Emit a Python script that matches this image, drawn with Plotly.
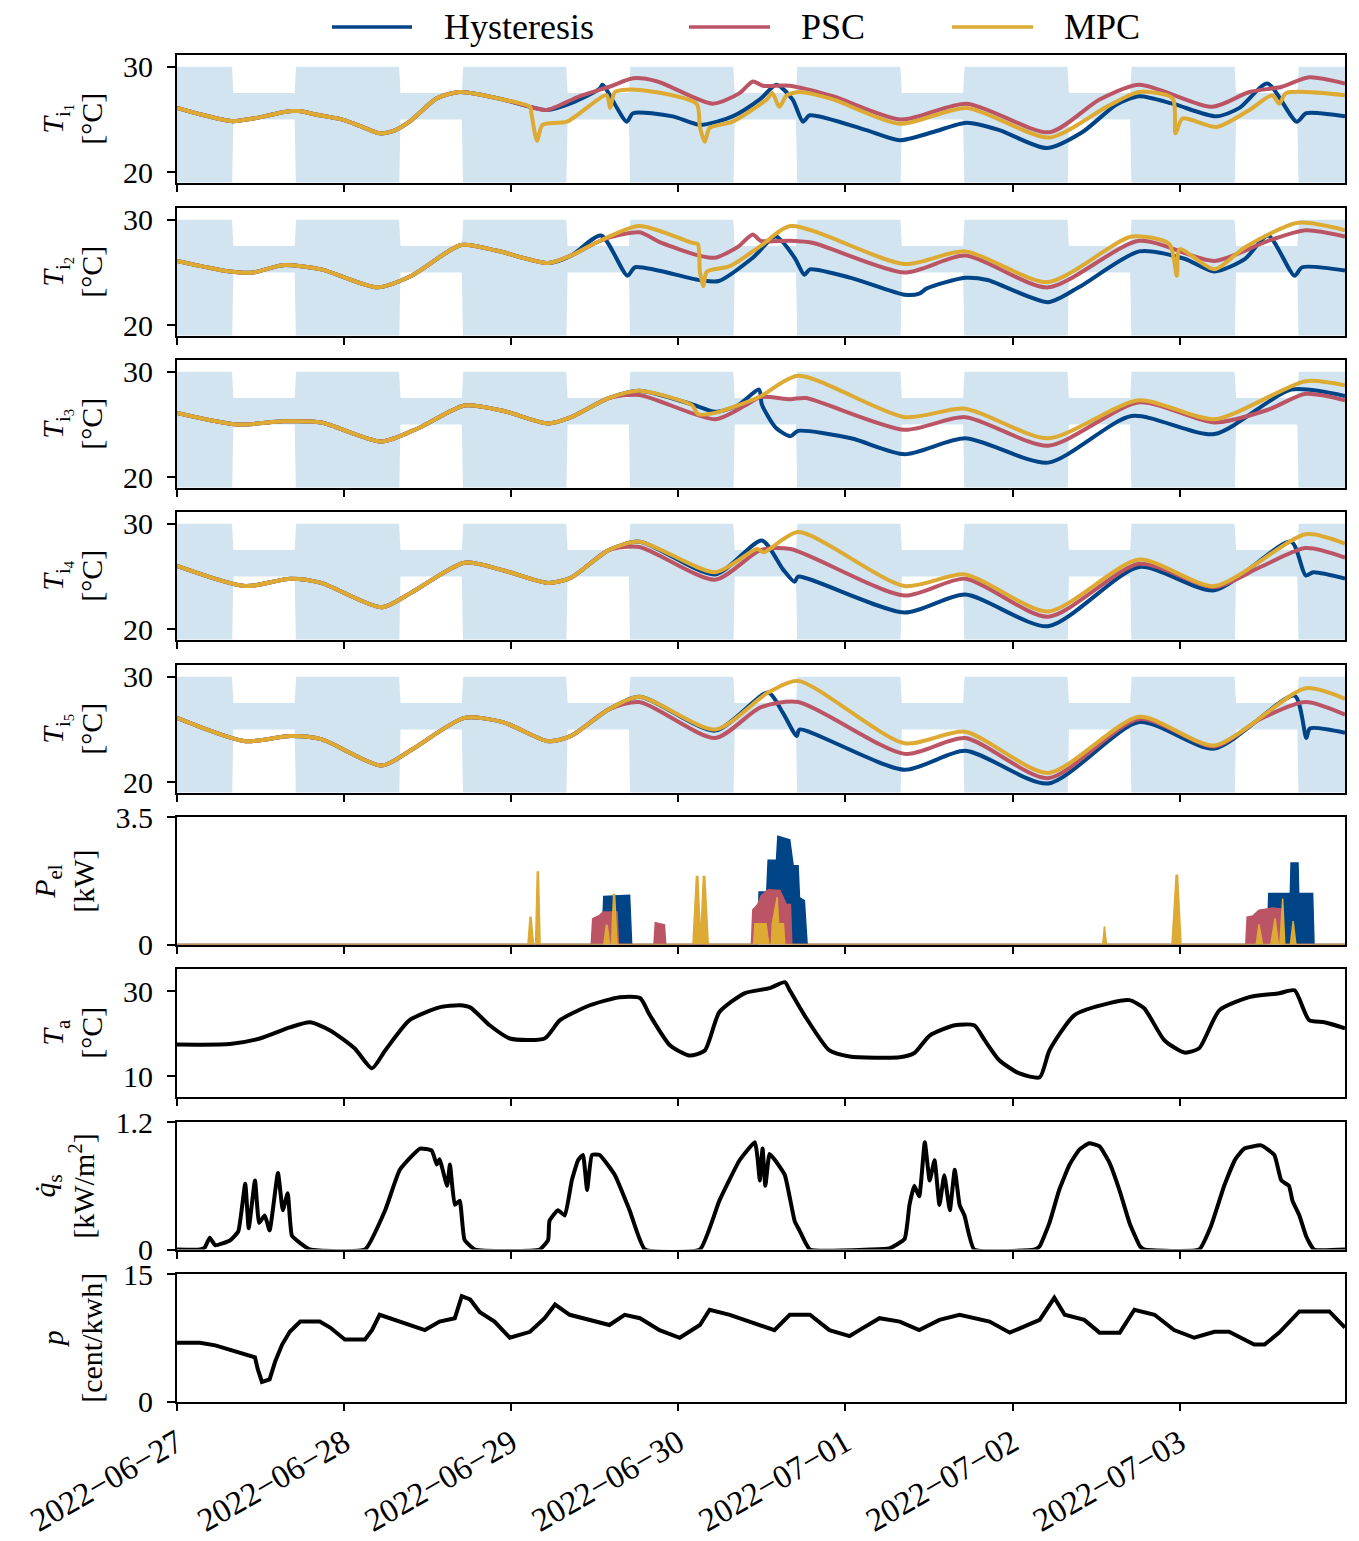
import pandas as pd
import plotly.graph_objects as go
from plotly.subplots import make_subplots

START = pd.Timestamp("2022-06-27 00:00")
END_H = 167.75

def tt(hours):
    return START + pd.to_timedelta(hours, unit="h")

# ---------------- comfort band (daily schedule, hours of day) ----------------
comfort_hod = [0, 7.9, 8.1, 16.9, 17.1, 24]
comfort_low = [18, 18, 25, 25, 18, 18]
comfort_high = [30, 30, 27.5, 27.5, 30, 30]
n_days = 7

# ---------------- room temperatures (hours, degC) ----------------
T1_common_h = [0, 3.3, 6.5, 8, 9.5, 11, 12.5, 14.5, 16.5, 17.5, 20.5, 24, 27, 29.1, 31, 33.4, 37.3, 40.6, 46.8, 50.7]
T1_common = [26.1, 25.5, 25.0, 24.85, 24.95, 25.1, 25.3, 25.6, 25.8, 25.8, 25.4, 24.95, 24.2, 23.7, 23.9, 24.8, 27.0, 27.6, 26.9, 26.2]
T1_hyst_h = T1_common_h + [53.1, 56.8, 60.7, 61.1, 64.6, 65.5, 71.2, 75.1, 79.8, 83.7, 86.1, 88.4, 89.9, 90.9, 99, 103.8, 108.5, 113.4, 118.1, 124.9, 130, 134.9, 138.2, 143, 149.3, 152.6, 156.6, 160.8, 162.2, 167.75]
T1_hyst = T1_common + [25.9, 26.6, 27.9, 28.3, 24.8, 25.6, 25.3, 24.5, 25.3, 26.9, 28.3, 26.9, 24.8, 25.4, 24.0, 23.05, 23.8, 24.7, 24.0, 22.3, 23.8, 26.4, 27.2, 26.5, 25.3, 26.1, 28.4, 24.8, 25.6, 25.3]
T1_psc_h = T1_common_h + [53.1, 57.8, 62.1, 65.5, 69, 76.9, 80.8, 82.7, 84.1, 88, 94.2, 104, 113.4, 125.3, 132.5, 138.2, 148.7, 154, 158.7, 162.6, 167.75]
T1_psc = T1_common + [25.9, 27.2, 28.1, 28.9, 28.6, 26.5, 27.5, 28.6, 28.2, 28.2, 27.2, 25.0, 26.5, 23.8, 26.9, 28.3, 26.2, 27.6, 28.1, 29.0, 28.4]
T1_mpc_h = T1_common_h + [50.9, 51.7, 52.5, 56, 61.7, 62.2, 62.9, 66.5, 74.6, 75.1, 75.8, 76.5, 79.8, 84.7, 85.5, 86.5, 87.6, 89.4, 94.2, 103.8, 113.4, 125.3, 133.5, 138.2, 143, 143.4, 144.4, 149.3, 154, 157.3, 158.3, 159.3, 167.75]
T1_mpc = T1_common + [25.6, 23.0, 24.5, 24.8, 27.3, 26.1, 27.6, 27.8, 26.5, 24.3, 22.9, 24.2, 24.8, 26.9, 27.5, 26.2, 27.3, 27.6, 26.9, 24.6, 26.1, 23.3, 26.2, 27.6, 27.0, 23.7, 25.1, 24.3, 25.9, 27.3, 26.5, 27.5, 27.3]

T2_common_h = [0, 7.6, 10.9, 15.2, 20.7, 28.8, 33.7, 40.8, 45.7, 53.3, 56.6]
T2_common = [26.1, 25.1, 25.0, 25.7, 25.3, 23.6, 24.7, 27.6, 27.1, 25.9, 26.6]
T2_hyst_h = T2_common_h + [60.9, 64.7, 65.8, 75, 77.8, 82.7, 86, 88.7, 90.1, 90.9, 96.8, 104.5, 106.6, 107.7, 113.2, 116.4, 125.1, 129.5, 138.2, 144.7, 149, 153.4, 156.7, 160.5, 161.6, 167.75]
T2_hyst = T2_common + [28.5, 24.7, 25.5, 24.3, 24.2, 26.4, 28.4, 26.4, 24.8, 25.3, 24.5, 22.9, 23.0, 23.5, 24.5, 24.3, 22.2, 23.6, 27.0, 26.3, 25.1, 26.3, 28.5, 24.7, 25.5, 25.2]
T2_psc_h = T2_common_h + [59.8, 62, 66.4, 69.6, 75, 77.3, 80.5, 82.7, 83.8, 88.1, 91.4, 104.5, 113.2, 125.1, 138.2, 149, 156.7, 162.1, 167.75]
T2_psc = T2_common + [27.7, 28.3, 28.8, 27.8, 26.6, 26.4, 27.4, 28.6, 28.0, 28.0, 27.8, 25.0, 26.6, 23.6, 28.0, 26.1, 28.0, 29.0, 28.4]
T2_mpc_h = T2_common_h + [59.8, 66.4, 74, 74.8, 75.1, 75.6, 76.1, 79.4, 83.8, 88.1, 104.5, 113.2, 125.1, 137.1, 142.5, 143.6, 144.0, 149, 153.4, 161, 167.75]
T2_mpc = T2_common + [27.7, 29.4, 27.8, 27.7, 25.1, 23.7, 25.1, 25.6, 27.5, 29.4, 25.8, 27.0, 24.1, 28.4, 27.7, 24.7, 27.2, 25.3, 27.4, 29.7, 29.0]

T3_common_h = [0, 8.7, 15.2, 20.7, 29.4, 34.8, 41.3, 46.8, 53.3, 56.6, 62]
T3_common = [26.1, 25.0, 25.3, 25.2, 23.4, 24.7, 26.8, 26.3, 25.1, 25.7, 27.5]
T3_hyst_h = T3_common_h + [66.4, 74, 77.3, 80.5, 83.6, 84.0, 86, 88.1, 89.2, 96.8, 104.5, 113.2, 125.1, 137.1, 149, 160, 167.75]
T3_hyst = T3_common + [28.2, 26.9, 26.2, 26.8, 28.3, 26.9, 24.7, 23.9, 24.4, 23.7, 22.2, 23.7, 21.4, 25.8, 24.1, 28.3, 27.7]
T3_psc_h = T3_common_h + [66.4, 77.3, 81.6, 83.8, 88.1, 90.3, 104.5, 113.2, 125.1, 138.2, 149, 156.7, 162.1, 167.75]
T3_psc = T3_common + [27.8, 25.5, 26.8, 27.6, 27.4, 27.5, 24.5, 25.7, 23.0, 27.1, 25.2, 26.4, 27.9, 27.3]
T3_mpc_h = T3_common_h + [66.4, 74, 74.8, 77.3, 83.6, 89.2, 104.5, 113.2, 125.1, 138.2, 149, 162.1, 167.75]
T3_mpc = T3_common + [28.2, 26.8, 26.0, 26.1, 27.6, 29.6, 25.7, 26.5, 23.7, 27.3, 25.5, 29.1, 28.7]

T4_common_h = [0, 9.8, 16.3, 20.7, 29.4, 33.7, 41.3, 46.8, 53.3, 56.6, 62]
T4_common = [26.0, 24.1, 24.8, 24.4, 22.1, 23.5, 26.3, 25.6, 24.4, 24.9, 27.5]
T4_hyst_h = T4_common_h + [66.4, 77.3, 84, 87, 88.7, 89.2, 104.5, 113.2, 125.1, 138.2, 149, 160, 162.1, 163.2, 167.75]
T4_hyst = T4_common + [28.3, 25.2, 28.4, 25.7, 24.5, 25.0, 21.6, 23.3, 20.3, 25.9, 23.7, 28.3, 25.1, 25.4, 24.8]
T4_psc_h = T4_common_h + [66.4, 77.3, 83.8, 88.1, 104.5, 113.2, 125.1, 138.2, 149, 155.6, 162.1, 167.75]
T4_psc = T4_common + [27.8, 24.7, 27.5, 27.6, 23.2, 24.8, 21.2, 26.2, 24.0, 25.9, 27.7, 26.8]
T4_mpc_h = T4_common_h + [66.4, 77.3, 83.3, 84.3, 89.2, 104.5, 113.2, 125.1, 138.2, 149, 162.1, 167.75]
T4_mpc = T4_common + [28.3, 25.4, 27.6, 27.3, 29.2, 24.1, 25.2, 21.7, 26.6, 24.1, 29.0, 28.1]

T5_common_h = [0, 9.8, 16.3, 20.7, 29.4, 33.7, 41.3, 46.8, 53.3, 56.6, 62]
T5_common = [26.1, 23.9, 24.4, 24.1, 21.6, 23.1, 26.1, 25.7, 23.9, 24.4, 26.9]
T5_hyst_h = T5_common_h + [66.4, 77.3, 84.9, 87, 89, 89.4, 104.5, 113.2, 125.1, 138.2, 149, 160.5, 162.2, 162.7, 167.75]
T5_hyst = T5_common + [28.1, 24.9, 28.5, 26.6, 24.4, 25.0, 21.2, 23.0, 19.9, 25.7, 23.2, 28.2, 24.2, 25.1, 24.7]
T5_psc_h = T5_common_h + [66.4, 77.3, 83.8, 89.2, 104.5, 113.2, 125.1, 138.2, 149, 155.6, 162.1, 167.75]
T5_psc = T5_common + [27.6, 24.2, 27.1, 27.6, 22.7, 24.2, 20.4, 26.0, 23.4, 26.0, 27.6, 26.4]
T5_mpc_h = T5_common_h + [66.4, 77.3, 84.9, 89.2, 104.5, 113.2, 125.1, 138.2, 149, 162.1, 167.75]
T5_mpc = T5_common + [28.1, 25.0, 28.5, 29.6, 23.7, 24.8, 20.9, 26.2, 23.5, 28.9, 27.9]

# ---------------- electric power (hours, kW) ----------------
P_hyst_h = [0, 61.0, 61.3, 65.0, 65.3, 83.4, 83.6, 84.7, 84.9, 86.1, 86.3, 88.0, 88.5, 89.2, 89.4, 90.1, 90.5,
            156.6, 156.8, 159.9, 160.0, 161.0, 161.1, 163.1, 163.3, 167.75]
P_hyst = [0, 0, 1.32, 1.35, 0, 0, 1.44, 1.44, 2.31, 2.31, 2.97, 2.87, 2.16, 2.16, 1.29, 1.2, 0,
          0, 1.40, 1.40, 2.24, 2.24, 1.40, 1.40, 0, 0]
P_psc_h = [0, 59.5, 59.7, 60.7, 61.2, 62.1, 63.2, 63.4, 68.5, 68.7, 70.0, 70.2, 82.5, 82.7, 83.4, 83.9, 84.9, 86.6, 87.5, 88.1, 88.3,
           153.5, 153.7, 154.5, 155.4, 157.4, 158.3, 158.7, 158.9, 167.75]
P_psc = [0, 0, 0.71, 0.8, 0.89, 0.89, 0.89, 0, 0, 0.60, 0.54, 0, 0, 0.95, 1.1, 1.34, 1.5, 1.48, 1.1, 1.1, 0,
         0, 0.75, 0.78, 0.94, 1.0, 0.97, 0.97, 0, 0]
P_mpc_h = [0, 50.4, 50.7, 50.85, 51.2, 51.5, 51.75, 51.9, 52.15, 61.3, 61.65, 61.8, 62.15, 62.4, 62.7, 62.85, 63.2,
           74.1, 74.6, 74.8, 75.2, 75.6, 75.8, 76.3, 82.8, 83.0, 84.6, 85.0, 85.35, 85.5, 86.2, 86.4, 87.1, 87.3,
           132.95, 133.2, 133.5, 142.9, 143.5, 143.7, 144.2, 155.0, 155.4, 155.9, 157.1, 157.7, 158.2,
           158.4, 158.8, 159.1, 159.9, 160.3, 160.7, 167.75]
P_mpc = [0, 0, 0.75, 0.75, 0, 0, 1.99, 1.99, 0, 0, 0.52, 0.52, 0, 0, 1.37, 1.37, 0,
         0, 1.87, 1.87, 0.1, 1.87, 1.87, 0, 0, 0.57, 0.57, 0, 0, 0.57, 1.30, 0.57, 0.57, 0,
         0, 0.5, 0, 0, 1.9, 1.9, 0, 0, 0.55, 0, 0, 0.72, 0,
         0, 1.26, 0, 0, 0.64, 0, 0]

# ---------------- ambient temperature (hours, degC) ----------------
Ta_h = [0, 7.6, 11.9, 16.2, 19.1, 22.0, 25.5, 28.0, 29.9, 33.4, 37.7, 40.6, 42.1, 44.9, 47.8, 52.8, 55.0, 59.3, 63.6, 66.5,
        67.9, 70.8, 73.6, 75.8, 77.9, 81.5, 85.1, 87.3, 88.0, 90.1, 93.7, 96.6, 103.8, 105.9, 108.1, 111.7, 114.5, 116.0,
        118.1, 121.0, 123.9, 125.3, 128.9, 133.9, 136.8, 138.9, 141.8, 144.7, 146.8, 149.7, 154.0, 158.3, 160.5, 162.6,
        164.8, 167.75]
Ta = [17.5, 17.6, 18.9, 21.5, 22.7, 20.8, 16.6, 11.9, 16.1, 23.2, 26.2, 26.7, 26.2, 22.0, 18.9, 18.9, 23.2, 26.7, 28.6, 28.4,
      24.4, 17.3, 14.9, 16.1, 25.1, 29.5, 30.7, 32.1, 30.2, 24.4, 16.1, 14.7, 14.5, 15.5, 19.6, 22.0, 22.0, 18.5,
      13.8, 10.7, 9.8, 16.1, 24.4, 27.2, 27.9, 26.0, 18.5, 15.6, 16.6, 25.5, 28.6, 29.5, 30.2, 23.2,
      22.7, 21.3]

# ---------------- solar irradiance (hours, kW/m2) ----------------
qs_h = [0, 3.3, 4.0, 4.7, 5.5, 7.6, 8.8, 9.8, 10.3, 11.2, 11.8, 12.6, 13.3, 14.5, 15.2, 15.9, 16.5, 17.7, 19.1,
        27.0, 29.9, 32.0, 34.9, 36.6, 37.3, 37.7, 38.8, 39.2, 39.9, 40.6, 41.3, 42.8,
        52.1, 53.3, 53.5, 54.7, 55.7, 56.7, 57.6, 58.3, 58.9, 59.6, 60.7, 62.9, 65.0, 67.2,
        75.1, 77.9, 80.8, 83.0, 83.4, 83.7, 84.1, 84.5, 85.1, 85.8, 87.3, 88.7, 89.4, 90.9,
        99.5, 102.3, 104.5, 105.2, 105.9, 106.6, 107.4, 108.1, 108.8, 109.5, 110.2, 111.0, 111.7, 112.4, 113.1, 114.5,
        123.2, 123.9, 125.3, 126.7, 128.2, 129.6, 131.0, 132.5, 133.9, 135.4, 136.8, 138.3, 138.9,
        146.8, 148.5, 150.4, 152.0, 153.3, 155.7, 157.6, 158.6, 159.7, 160.2, 161.2, 162.2, 163.3, 167.75]
qs = [0, 0, 0.02, 0.11, 0.04, 0.085, 0.17, 0.62, 0.2, 0.65, 0.25, 0.32, 0.18, 0.72, 0.37, 0.53, 0.13, 0.06, 0,
      0, 0.37, 0.75, 0.95, 0.93, 0.8, 0.85, 0.6, 0.8, 0.42, 0.46, 0.09, 0,
      0, 0.09, 0.27, 0.37, 0.32, 0.65, 0.84, 0.89, 0.56, 0.89, 0.89, 0.70, 0.37, 0,
      0, 0.46, 0.84, 1.01, 0.85, 0.65, 0.95, 0.6, 0.9, 0.85, 0.70, 0.27, 0.18, 0,
      0, 0.01, 0.1, 0.42, 0.6, 0.5, 1.01, 0.65, 0.84, 0.42, 0.7, 0.37, 0.75, 0.42, 0.32, 0,
      0, 0.03, 0.25, 0.56, 0.80, 0.94, 1.0, 0.97, 0.82, 0.55, 0.25, 0.03, 0,
      0, 0.22, 0.6, 0.85, 0.95, 0.98, 0.89, 0.65, 0.6, 0.46, 0.32, 0.12, 0, 0]

# ---------------- electricity price (hours, cent/kWh) ----------------
p_h = [0, 3.3, 5.5, 7.6, 9.8, 11.2, 11.6, 12.2, 13.3, 14.1, 15.1, 16.2, 17.7, 20.5, 22.0, 24.1, 27.0, 28.0, 29.1, 31.3,
       33.4, 35.6, 37.7, 39.9, 40.9, 42.1, 43.5, 45.6, 47.8, 50.7, 52.8, 54.3, 56.4, 59.3, 62.1, 64.3, 66.5, 69.3, 72.2,
       75.1, 76.5, 79.4, 83.7, 85.8, 88.0, 90.9, 93.7, 96.6, 98.0, 100.9, 103.8, 106.6, 109.5, 112.4, 116.7, 119.6,
       123.9, 126.0, 127.5, 130.3, 132.5, 135.4, 137.5, 140.4, 143.2, 146.1, 149.0, 151.1, 154.7, 156.2, 158.3, 161.2,
       165.5, 167.75]
p = [6.9, 6.9, 6.6, 6.1, 5.5, 5.2, 3.8, 2.3, 2.6, 4.7, 6.7, 8.2, 9.4, 9.4, 8.7, 7.3, 7.3, 8.4, 10.2, 9.6,
     9.0, 8.4, 9.4, 9.8, 12.4, 12.0, 10.5, 9.4, 7.5, 8.2, 9.8, 11.4, 10.2, 9.6, 9.0, 10.2, 9.8, 8.4, 7.5,
     9.0, 10.8, 10.2, 9.0, 8.4, 10.2, 10.2, 8.4, 7.7, 8.4, 9.8, 9.4, 8.4, 9.6, 10.2, 9.4, 8.1,
     9.6, 12.2, 10.2, 9.6, 8.1, 8.1, 10.8, 10.2, 8.4, 7.5, 8.2, 8.2, 6.7, 6.7, 8.1, 10.6,
     10.6, 8.7]

day_ticks = ["2022-06-27", "2022-06-28", "2022-06-29", "2022-06-30", "2022-07-01", "2022-07-02", "2022-07-03"]
series_names = ["Hysteresis", "PSC", "MPC"]
colors = {"Hysteresis": "#004488", "PSC": "#BB5566", "MPC": "#DDAA33"}
band_color = "rgba(31,119,180,0.2)"

# ---------------- geometry (page has an 8px body margin) ----------------
OFF = 8
SCR_L, SCR_R, SCR_T, SCR_B = 177, 1345, 55, 1402   # plot area in screen pixels
W, H = 1359 - OFF, 1541 - OFF
ML, MT = SCR_L - OFF, SCR_T - OFF
MR, MB = W - (SCR_R - OFF), H - (SCR_B - OFF)
PW, PH = SCR_R - SCR_L, SCR_B - SCR_T

def px_x(px):
    return (px - SCR_L) / PW

def px_y(py):
    return (SCR_B - py) / PH

fig = make_subplots(rows=9, cols=1, shared_xaxes=True)

band_h, band_lo, band_hi = [], [], []
for d in range(n_days):
    for hh, lo, hi in zip(comfort_hod, comfort_low, comfort_high):
        band_h.append(24 * d + hh)
        band_lo.append(lo)
        band_hi.append(hi)

temps = [
    (T1_hyst_h, T1_hyst, T1_psc_h, T1_psc, T1_mpc_h, T1_mpc),
    (T2_hyst_h, T2_hyst, T2_psc_h, T2_psc, T2_mpc_h, T2_mpc),
    (T3_hyst_h, T3_hyst, T3_psc_h, T3_psc, T3_mpc_h, T3_mpc),
    (T4_hyst_h, T4_hyst, T4_psc_h, T4_psc, T4_mpc_h, T4_mpc),
    (T5_hyst_h, T5_hyst, T5_psc_h, T5_psc, T5_mpc_h, T5_mpc),
]
LW = 4
for i, tr in enumerate(temps):
    r = i + 1
    fig.add_trace(go.Scatter(x=tt(band_h), y=band_lo, mode="lines", line=dict(width=0),
                             showlegend=False, hoverinfo="skip"), row=r, col=1)
    fig.add_trace(go.Scatter(x=tt(band_h), y=band_hi, mode="lines", line=dict(width=0),
                             fill="tonexty", fillcolor=band_color, showlegend=False, hoverinfo="skip"),
                  row=r, col=1)
    for k, name in enumerate(series_names):
        fig.add_trace(go.Scatter(x=tt(tr[2 * k]), y=tr[2 * k + 1], mode="lines",
                                 line=dict(color=colors[name], width=LW, shape="spline", smoothing=0.7),
                                 name=name, showlegend=False), row=r, col=1)

for name, hh, vv in [("Hysteresis", P_hyst_h, P_hyst), ("PSC", P_psc_h, P_psc), ("MPC", P_mpc_h, P_mpc)]:
    fig.add_trace(go.Scatter(x=tt(hh), y=vv, mode="lines", line=dict(color=colors[name], width=1.5),
                             fill="tozeroy", fillcolor=colors[name], showlegend=False), row=6, col=1)

fig.add_trace(go.Scatter(x=tt(Ta_h), y=Ta, mode="lines",
                         line=dict(color="black", width=LW, shape="spline", smoothing=0.6),
                         showlegend=False), row=7, col=1)
fig.add_trace(go.Scatter(x=tt(qs_h), y=qs, mode="lines",
                         line=dict(color="black", width=LW, shape="spline", smoothing=0.4),
                         showlegend=False), row=8, col=1)
fig.add_trace(go.Scatter(x=tt(p_h), y=p, mode="lines", line=dict(color="black", width=LW),
                         showlegend=False), row=9, col=1)

FONT = "Liberation Serif"
TICKF = dict(family=FONT, size=30, color="black")
XTICKF = dict(family=FONT, size=33, color="black")
yranges = [[19.05, 31.1]] * 5 + [[0, 3.5], [5.3, 35.2], [0, 1.2], [0, 15]]
yticks = [[20, 30]] * 5 + [[0, 3.5], [10, 30], [0, 1.2], [0, 15]]
ytext = [["20", "30"]] * 5 + [["0", "3.5"], ["10", "30"], ["0", "1.2"], ["0", "15"]]
titles = [
    "<i>T</i><sub>i<sub>1</sub></sub><br>[°C]",
    "<i>T</i><sub>i<sub>2</sub></sub><br>[°C]",
    "<i>T</i><sub>i<sub>3</sub></sub><br>[°C]",
    "<i>T</i><sub>i<sub>4</sub></sub><br>[°C]",
    "<i>T</i><sub>i<sub>5</sub></sub><br>[°C]",
    "<i>P</i><sub>el</sub><br>[kW]",
    "<i>T</i><sub>a</sub><br>[°C]",
    "<i>q̇</i><sub>s</sub><br>[kW/m<sup>2</sup>]",
    "<i>p</i><br>[cent/kwh]",
]
title_right_px = [110, 110, 110, 110, 110, 102, 110, 102, 110]
panel_tops = [55, 208, 360, 512, 665, 817, 969, 1122, 1274]
panel_h = 127.5

annotations = []
for i in range(9):
    top = panel_tops[i]
    bot = top + panel_h
    y0, y1 = px_y(bot), px_y(top)
    ya = "yaxis" if i == 0 else f"yaxis{i + 1}"
    xa = "xaxis" if i == 0 else f"xaxis{i + 1}"
    fig.layout[ya].update(domain=[max(0, y0), min(1, y1)], range=yranges[i], tickvals=yticks[i], ticktext=ytext[i],
                          showline=True, linecolor="black", linewidth=2, mirror=True,
                          ticks="outside", ticklen=8, tickwidth=2, tickcolor="black", ticklabelstandoff=8,
                          showgrid=False, zeroline=False, tickfont=TICKF, automargin=False)
    last = (i == 8)
    fig.layout[xa].update(range=[tt(0), tt(END_H)], tickvals=pd.to_datetime(day_ticks),
                          ticktext=[d.replace("-", "\u2212") for d in day_ticks],
                          showticklabels=last, tickangle=-30,
                          showline=True, linecolor="black", linewidth=2, mirror=True,
                          ticks="outside", ticklen=7, tickwidth=2, tickcolor="black",
                          showgrid=False, zeroline=False, tickfont=XTICKF, automargin=False)
    annotations.append(dict(text=titles[i], xref="paper", yref="paper",
                            x=px_x(title_right_px[i]), y=(y0 + y1) / 2,
                            xanchor="right", yanchor="middle", textangle=-90, showarrow=False,
                            font=dict(family=FONT, size=30, color="black")))

# legend drawn at top (screen pixel positions)
leg_y = px_y(27)
shapes = []
for name, x0, x1, xt in [("Hysteresis", 332, 412, 443), ("PSC", 689, 770, 800), ("MPC", 952, 1033, 1063)]:
    shapes.append(dict(type="line", xref="paper", yref="paper", x0=px_x(x0), x1=px_x(x1),
                       y0=leg_y, y1=leg_y, line=dict(color=colors[name], width=3.5)))
    annotations.append(dict(text=name, xref="paper", yref="paper", x=px_x(xt), y=leg_y,
                            xanchor="left", yanchor="middle", showarrow=False, borderpad=0,
                            font=dict(family=FONT, size=36, color="black")))

fig.update_layout(width=W, height=H, margin=dict(l=ML, r=MR, t=MT, b=MB),
                  plot_bgcolor="white", paper_bgcolor="white", showlegend=False,
                  annotations=annotations, shapes=shapes,
                  font=dict(family=FONT, color="black"))

fig.write_html("out.html")
